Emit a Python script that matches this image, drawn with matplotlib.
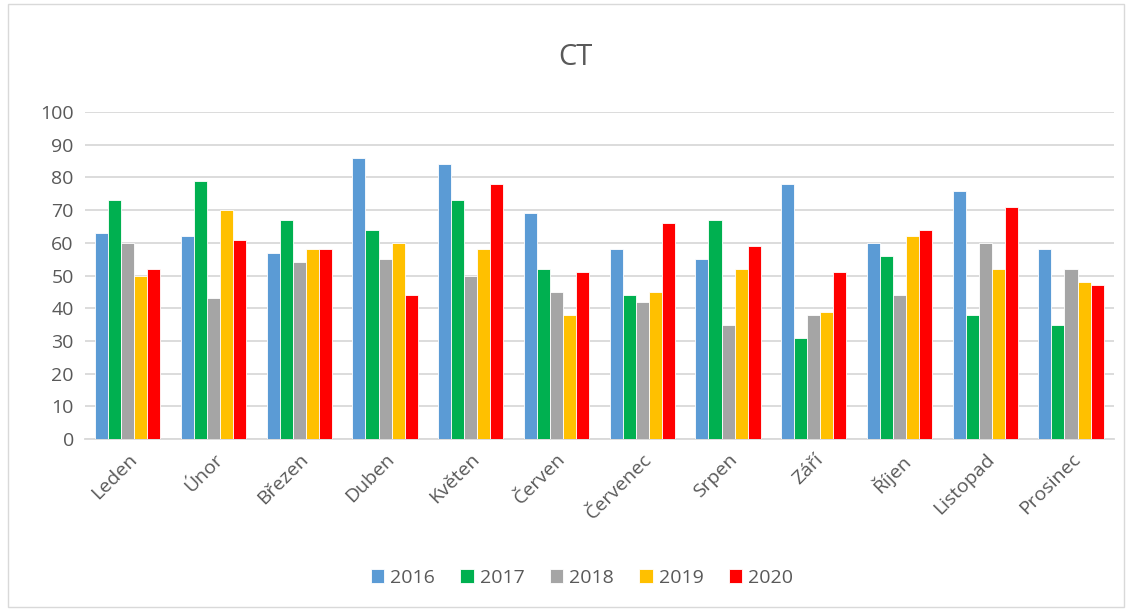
import matplotlib.pyplot as plt
import numpy as np
from matplotlib.patches import Rectangle

plt.rcParams['font.family'] = ['Open Sans', 'DejaVu Sans']

mesice = ["Leden", "Únor", "Březen", "Duben", "Květen", "Červen",
          "Červenec", "Srpen", "Září", "Říjen", "Listopad", "Prosinec"]
roky = ["2016", "2017", "2018", "2019", "2020"]
barvy = ["#5b9bd5", "#00b050", "#a5a5a5", "#ffc000", "#ff0000"]

v2016 = [63, 62, 57, 86, 84, 69, 58, 55, 78, 60, 76, 58]
v2017 = [73, 79, 67, 64, 73, 52, 44, 67, 31, 56, 38, 35]
v2018 = [60, 43, 54, 55, 50, 45, 42, 35, 38, 44, 60, 52]
v2019 = [50, 70, 58, 60, 58, 38, 45, 52, 39, 62, 52, 48]
v2020 = [52, 61, 58, 44, 78, 51, 66, 59, 51, 64, 71, 47]
hodnoty = [v2016, v2017, v2018, v2019, v2020]

fig = plt.figure(figsize=(11.32, 6.09), dpi=100)
ax = fig.add_axes([0.075, 0.279, 0.909, 0.537])

x = np.arange(len(mesice))
sirka = 0.152
for i, (rok, vals, c) in enumerate(zip(roky, hodnoty, barvy)):
    ax.bar(x + (i - 2) * sirka, vals, sirka, color=c, edgecolor='white',
           linewidth=0.6, label=rok, zorder=3)

ax.set_xlim(-0.5, len(mesice) - 0.5)
ax.set_ylim(0, 100)
ax.set_yticks(range(0, 101, 10))
ax.yaxis.grid(True, color='#d9d9d9', linewidth=1.3, zorder=0)
for s in ['top', 'right', 'left']:
    ax.spines[s].set_visible(False)
ax.spines['bottom'].set_color('#d9d9d9')
ax.spines['bottom'].set_linewidth(1.3)
ax.tick_params(axis='both', length=0, labelsize=14, colors='#595959', pad=8)
ax.set_xticks(x)
ax.set_xticklabels(mesice, rotation=45, ha='right', rotation_mode='anchor')

fig.text(0.508, 0.905, "CT", ha='center', va='center', fontsize=21, color='#595959')

ax.legend(loc='center', bbox_to_anchor=(0.483, -0.425), ncol=5, frameon=False,
          fontsize=14, labelcolor='#595959', handlelength=0.7, handleheight=0.7,
          columnspacing=1.3, handletextpad=0.3)

fig.patches.append(Rectangle((0.007, 0.004), 0.986, 0.99, transform=fig.transFigure,
                             fill=False, edgecolor='#d9d9d9', linewidth=1))

fig.savefig("out.png", dpi=100)
